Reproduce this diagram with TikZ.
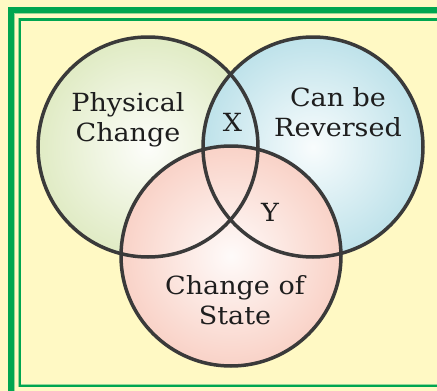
\documentclass[tikz,border=0pt]{standalone}
\usepackage{fontspec}
\setmainfont{DejaVu Serif}[FakeStretch=1.08]
\definecolor{bgyellow}{RGB}{255,249,196}
\definecolor{framegreen}{RGB}{0,166,80}
\definecolor{halogreen}{RGB}{150,214,150}
\definecolor{ringgray}{RGB}{58,58,58}
\definecolor{greenfill}{RGB}{224,235,196}
\definecolor{bluefill}{RGB}{190,226,234}
\definecolor{pinkfill}{RGB}{249,210,199}
\definecolor{txt}{RGB}{30,30,30}
\tikzset{
  ring/.style={draw=ringgray, line width=3.5pt},
  lbl/.style={inner sep=0pt, align=center, text=txt, font=\fontsize{25}{30}\selectfont},
}
\begin{document}
\begin{tikzpicture}[x=1pt,y=-1pt]
\useasboundingbox (0,0) rectangle (437,391);
\fill[bgyellow] (0,0) rectangle (437,391);
% frame
\draw[halogreen, line width=7.5pt] (11.3,395) -- (11.3,10.3) -- (440,10.3);
\draw[framegreen, line width=6pt] (11.3,395) -- (11.3,10.3) -- (440,10.3);
\draw[halogreen, line width=3.5pt] (440,19.3) -- (19.7,19.3) -- (19.7,385.7) -- (440,385.7);
\draw[framegreen, line width=2.4pt] (440,19.3) -- (19.7,19.3) -- (19.7,385.7) -- (440,385.7);
% circle centres
\coordinate (cg) at (148,147);
\coordinate (cb) at (313,147);
\coordinate (cp) at (231,256);
% fills
\shade[inner color=white!92!greenfill, outer color=greenfill] (cg) circle[radius=110];
\shade[inner color=white!90!bluefill, outer color=bluefill] (cb) circle[radius=110];
\shade[inner color=white!90!pinkfill, outer color=pinkfill] (cp) circle[radius=110];
% outlines
\draw[ring] (cg) circle[radius=110];
\draw[ring] (cb) circle[radius=110];
\draw[ring] (cp) circle[radius=110];
% labels
\node[lbl] (phys) at (128,120) {Physical\\Change};
\node[lbl] (rev) at (338,112) {Can be\\Reversed};
\node[lbl] (state) at (235,300) {Change of\\State};
\node[lbl] (x) at (232.5,122.5) {X};
\node[lbl] (y) at (270,212.5) {Y};
\end{tikzpicture}
\end{document}
